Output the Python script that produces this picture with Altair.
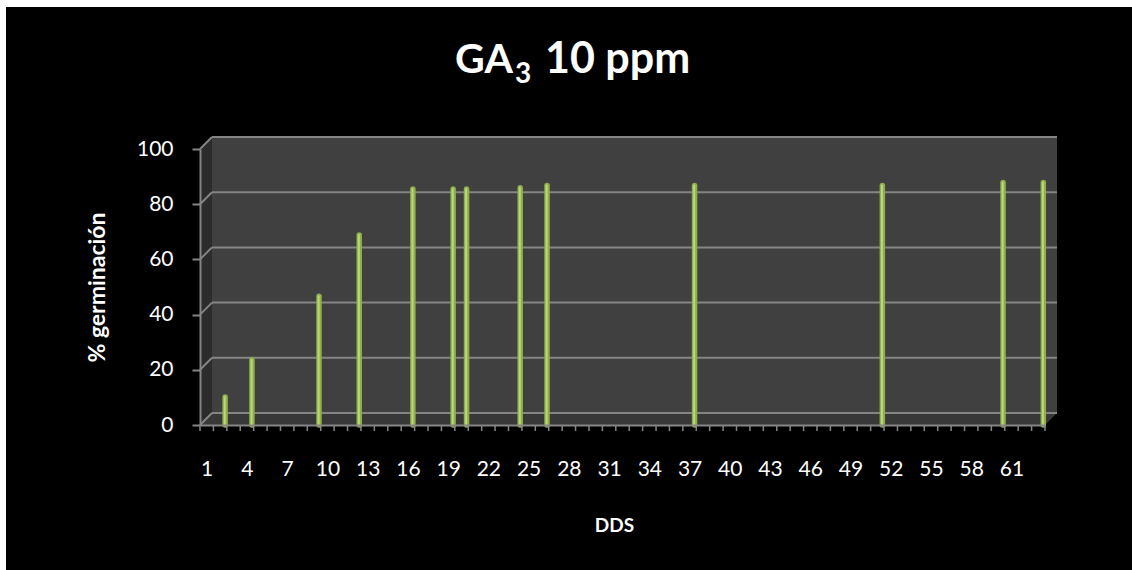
import altair as alt
import pandas as pd

# Germination series: day index (DDS) and cumulative germination (%)
days = [2, 4, 9, 12, 16, 19, 20, 24, 26, 37, 51, 60, 63]
germination = [8.0, 21.5, 44.5, 66.7, 83.3, 83.3, 83.3, 83.8, 84.6, 84.6, 84.6, 85.7, 85.7]

# Category axis: days 1..63, labelled every third day
n_days = 63
x_labels = list(range(1, n_days + 1, 3))
y_ticks = [0, 20, 40, 60, 80, 100]

FONT = "Lato"
W, H = 845, 276            # plot area (front face of the 3-D box)
DEPTH = 12                 # pixel depth of the pseudo 3-D box
GRID = "#858585"

x_dom = [0.5, n_days + 0.5]
y_dom = [0, 100]
px_x = W / (x_dom[1] - x_dom[0])
px_y = H / (y_dom[1] - y_dom[0])
dx = DEPTH / px_x           # depth expressed in data units
dy = DEPTH / px_y

xs = alt.Scale(domain=x_dom, nice=False, zero=False)
ys = alt.Scale(domain=y_dom, nice=False)

x_axis = alt.Axis(
    values=x_labels, ticks=False, grid=False, labelColor="white", labelFont=FONT,
    labelFontSize=21, labelPadding=33, domainColor=GRID, domainWidth=2,
    title="DDS", titleColor="white", titleFont=FONT, titleFontSize=19,
    titleFontWeight="bold", titleX=414, titleY=100, titleBaseline="middle",
    titleAlign="center", labelFlush=False, labelOverlap=False, zindex=1,
)
y_axis = alt.Axis(
    values=y_ticks, grid=False, tickSize=8, tickColor=GRID, tickWidth=2,
    domainColor=GRID, domainWidth=2, labelColor="white", labelFont=FONT,
    labelFontSize=21, labelPadding=19, title="% germinación", titleColor="white",
    titleFont=FONT, titleFontSize=23, titleFontWeight="bold", titleX=-103,
    titleY=H / 2, titleAlign="center", titleBaseline="middle", titleAngle=-90,
    labelFlush=False, zindex=1,
)


def X(field):
    return alt.X(field, scale=xs, axis=x_axis)


def Y(field):
    return alt.Y(field, scale=ys, axis=y_axis)


one = pd.DataFrame({"k": [0]})

# black chart area
frame = alt.Chart(one).mark_rect(color="#000000").encode(
    x=alt.value(-194), x2=alt.value(W + 87), y=alt.value(-142), y2=alt.value(H + 145)
)

# back wall
wall = pd.DataFrame({"x": [x_dom[0]], "x2": [x_dom[1]], "y": [0], "y2": [100]})
back = alt.Chart(wall).mark_rect(
    color="#404040", xOffset=DEPTH, x2Offset=DEPTH, yOffset=-DEPTH, y2Offset=-DEPTH
).encode(x=X("x:Q"), x2="x2", y=Y("y:Q"), y2="y2")

# left side wall
side_df = pd.DataFrame({
    "x": [x_dom[0], x_dom[0] + dx],
    "y": [0, dy],
    "y2": [100, 100 + dy],
})
side = alt.Chart(side_df).mark_area(color="#2c2c2c", orient="vertical").encode(
    x=X("x:Q"), y=Y("y:Q"), y2="y2"
)

# floor
floor_df = pd.DataFrame({
    "y": [0, dy],
    "x": [x_dom[0], x_dom[0] + dx],
    "x2": [x_dom[1], x_dom[1] + dx],
})
floor = alt.Chart(floor_df).mark_area(color="#383838", orient="horizontal").encode(
    y=Y("y:Q"), x=X("x:Q"), x2="x2"
)

grid_df = pd.DataFrame({"v": y_ticks, "x": x_dom[0], "x2": x_dom[1]})
back_grid = alt.Chart(grid_df).mark_rule(
    color=GRID, strokeWidth=2, xOffset=DEPTH, x2Offset=DEPTH, yOffset=-DEPTH, y2Offset=-DEPTH
).encode(x=X("x:Q"), x2="x2", y=Y("v:Q"))

side_grid = alt.Chart(grid_df).mark_rule(
    color=GRID, strokeWidth=2, x2Offset=DEPTH, y2Offset=-DEPTH
).encode(x=X("x:Q"), x2="x", y=Y("v:Q"), y2="v")

# category boundary ticks below the front edge
bounds = pd.DataFrame({"b": [i + 0.5 for i in range(0, n_days + 1)]})
ticks = alt.Chart(bounds).mark_rule(color=GRID, strokeWidth=1.5).encode(
    x=X("b:Q"), y=alt.value(H), y2=alt.value(H + 6)
)

data = pd.DataFrame({"dia": days, "germ": germination})

bars = alt.Chart(data).mark_rule(
    color="#8fae4c", strokeWidth=5.5, strokeCap="round", xOffset=5, yOffset=-6
).encode(x=X("dia:Q"), y=Y("germ:Q"), y2=alt.datum(0))
shine = alt.Chart(data).mark_rule(
    color="#b9d978", strokeWidth=2, strokeCap="round", xOffset=4.6, yOffset=-6
).encode(x=X("dia:Q"), y=Y("germ:Q"), y2=alt.datum(0))

# chart title "GA3 10 ppm" with subscript 3
title_main = alt.Chart(one).mark_text(
    text="GA", font=FONT, fontSize=41, fontWeight="bold", color="white",
    align="right", baseline="alphabetic"
).encode(x=alt.value(313), y=alt.value(-76))
title_sub = alt.Chart(one).mark_text(
    text="3", font=FONT, fontSize=28, fontWeight="bold", color="white",
    align="left", baseline="alphabetic"
).encode(x=alt.value(315), y=alt.value(-66))
title_rest = alt.Chart(one).mark_text(
    text="10 ppm", font=FONT, fontSize=43, fontWeight="bold", color="white",
    align="left", baseline="alphabetic"
).encode(x=alt.value(345), y=alt.value(-76))

chart = alt.layer(
    frame, back, side, floor, back_grid, side_grid, ticks, bars, shine,
    title_main, title_sub, title_rest,
).properties(
    width=W, height=H,
    autosize=alt.AutoSizeParams(type="none"),
    padding={"left": 200, "top": 149, "right": 87, "bottom": 145},
    background="white",
).configure_view(stroke="transparent")

chart.save("out.html", embed_options={"renderer": "svg", "actions": False})
